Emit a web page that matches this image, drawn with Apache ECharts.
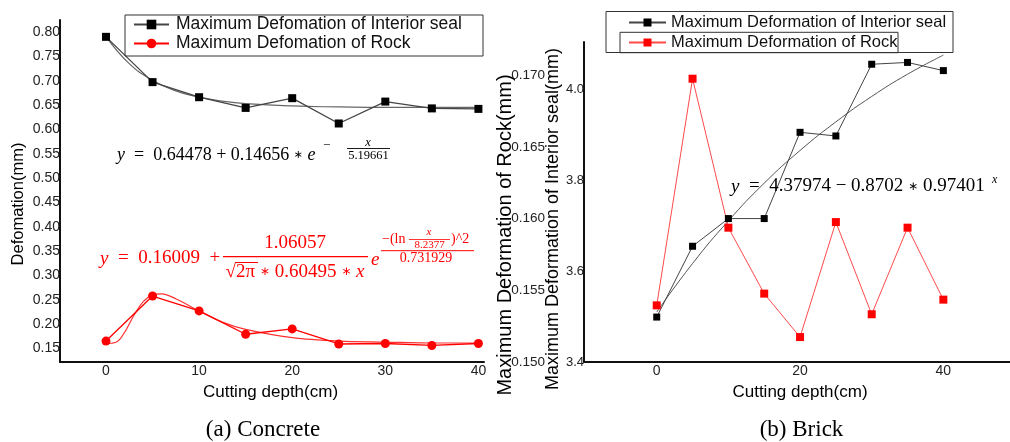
<!DOCTYPE html>
<html>
<head>
<meta charset="utf-8">
<script src="https://cdn.jsdelivr.net/npm/echarts@6/dist/echarts.min.js"></script>
<style>
html,body{margin:0;padding:0;background:#fff;}
#c{width:1010px;height:442px;}
</style>
</head>
<body>
<div id="c"></div>
<script>
// ---------- data ----------
const xDepth = [0, 5, 10, 15, 20, 25, 30, 35, 40];
// (a) Concrete
const concreteSeal = [0.790, 0.697, 0.666, 0.644, 0.664, 0.612, 0.657, 0.643, 0.642];
const concreteRock = [0.165, 0.2575, 0.227, 0.179, 0.190, 0.159, 0.160, 0.156, 0.160];
const concreteSealFitX = [0, 2.5, 5, 7.5, 10, 12.5, 15, 20, 25, 30, 35, 40];
const concreteSealFitY = [0.791, 0.735, 0.701, 0.679, 0.666, 0.658, 0.653, 0.648, 0.646, 0.645, 0.645, 0.645];
const concreteRockFitX = [0, 1, 1.5, 2, 2.5, 3, 4, 5, 6, 7.5, 10, 12.5, 15, 20, 25, 30, 35, 40];
const concreteRockFitY = [0.160, 0.162, 0.169, 0.183, 0.200, 0.218, 0.246, 0.260, 0.262, 0.252, 0.227, 0.204, 0.189, 0.172, 0.165, 0.163, 0.161, 0.161];
// (b) Brick
const brickSeal = [3.499, 3.655, 3.716, 3.716, 3.906, 3.898, 4.056, 4.060, 4.042];
const brickRock = [0.15395, 0.16976, 0.15937, 0.15477, 0.15174, 0.15976, 0.15333, 0.15937, 0.15435];
const brickSealFitY = [3.510, 3.617, 3.711, 3.794, 3.866, 3.929, 3.985, 4.034, 4.076];
// tick labels
const yTicksConcrete = [0.15, 0.20, 0.25, 0.30, 0.35, 0.40, 0.45, 0.50, 0.55, 0.60, 0.65, 0.70, 0.75, 0.80];
const xTicksConcrete = [0, 10, 20, 30, 40];
const xTicksBrick = [0, 20, 40];
const yTicksBrickSeal = [3.4, 3.6, 3.8, 4.0];
const yTicksBrickRock = [0.150, 0.155, 0.160, 0.165, 0.170];
// names
const nameSealA = 'Maximum Defomation of Interior seal';
const nameRockA = 'Maximum Defomation of Rock';
const nameSealB = 'Maximum Deformation of Interior seal';
const nameRockB = 'Maximum Deformation of Rock';

const pairs = (xs, ys) => xs.map((x, i) => [x, ys[i]]);
const SANS = 'Liberation Sans, Arial, sans-serif';
const SERIF = 'Liberation Serif, Times New Roman, serif';

function T(text, x, y, size, o) {
  o = o || {};
  return {
    type: 'text', x: x, y: y, silent: true, rotation: o.rot || 0, z: 100,
    style: {
      text: text, fontSize: size, fontFamily: o.font || SERIF,
      fontStyle: o.italic ? 'italic' : 'normal',
      fill: o.color || '#000', align: o.align || 'left', verticalAlign: 'middle',
      rich: o.rich
    }
  };
}
function L(x1, y1, x2, y2, color, w) {
  return { type: 'line', silent: true, z: 100, shape: { x1: x1, y1: y1, x2: x2, y2: y2 }, style: { stroke: color, lineWidth: w || 1 } };
}
function R(x, y, w, h) {
  return { type: 'rect', silent: true, z: 100, shape: { x: x, y: y, width: w, height: h }, style: { fill: 'rgba(0,0,0,0)', stroke: '#333', lineWidth: 1 } };
}
function richSet(size, color) {
  return {
    i: { fontStyle: 'italic', fontSize: size, fontFamily: SERIF, fill: color },
    s: { fontSize: Math.round(size * 0.62), fontFamily: 'DejaVu Sans, sans-serif', fill: color }
  };
}

const RED = '#ff0000';
const axisLbl = { color: '#222', fontSize: 14, fontFamily: SANS };
const axLine = { show: true, onZero: false, lineStyle: { color: '#111', width: 2 } };

const option = {
  animation: false,
  backgroundColor: '#fff',
  grid: [
    { left: 60, top: 20, width: 424, height: 342 },
    { left: 584, top: 42, width: 426, height: 320 }
  ],
  xAxis: [
    { type: 'value', gridIndex: 0, min: -4.94, max: 40.6,
      axisLine: axLine, axisTick: { show: false }, splitLine: { show: false },
      axisLabel: Object.assign({}, axisLbl, { margin: 2, customValues: xTicksConcrete, formatter: v => String(v) }) },
    { type: 'value', gridIndex: 1, min: -10.15, max: 49.3,
      axisLine: axLine, axisTick: { show: false }, splitLine: { show: false },
      axisLabel: Object.assign({}, axisLbl, { margin: 2, customValues: xTicksBrick, formatter: v => String(v) }) }
  ],
  yAxis: [
    { type: 'value', gridIndex: 0, min: 0.122, max: 0.8246,
      axisLine: axLine, axisTick: { show: false }, splitLine: { show: false },
      axisLabel: Object.assign({}, axisLbl, { margin: 0, customValues: yTicksConcrete, formatter: v => v.toFixed(2) }) },
    { type: 'value', gridIndex: 1, min: 3.4, max: 4.105,
      axisLine: axLine, axisTick: { show: false }, splitLine: { show: false },
      axisLabel: Object.assign({}, axisLbl, { fontSize: 13, margin: 0, customValues: yTicksBrickSeal, formatter: v => v.toFixed(1) }) },
    { type: 'value', gridIndex: 1, min: 0.150, max: 0.17232, position: 'left',
      axisLine: { show: false, onZero: false }, axisTick: { show: false }, splitLine: { show: false },
      axisLabel: Object.assign({}, axisLbl, { fontSize: 13.5, margin: 39, customValues: yTicksBrickRock, formatter: v => v.toFixed(3) }) }
  ],
  legend: [
    { orient: 'vertical', left: 133, top: 15, padding: 0, itemGap: 0, itemWidth: 35, itemHeight: 12,
      data: [nameSealA, nameRockA],
      textStyle: { fontSize: 17.5, fontFamily: SANS, color: '#111', lineHeight: 19, padding: [0, 0, 0, 2] } },
    { orient: 'vertical', left: 628, top: 12.5, padding: 0, itemGap: 0, itemWidth: 37, itemHeight: 10,
      data: [nameSealB, nameRockB],
      textStyle: { fontSize: 16.5, fontFamily: SANS, color: '#111', lineHeight: 20, padding: [0, 0, 0, 0] } }
  ],
  series: [
    // (a) fits
    { type: 'line', xAxisIndex: 0, yAxisIndex: 0, name: 'fitSealA', data: pairs(concreteSealFitX, concreteSealFitY),
      smooth: true, showSymbol: false, lineStyle: { color: '#666', width: 1.2 }, z: 2 },
    { type: 'line', xAxisIndex: 0, yAxisIndex: 0, name: 'fitRockA', data: pairs(concreteRockFitX, concreteRockFitY),
      smooth: 0.3, showSymbol: false, lineStyle: { color: '#ff3030', width: 1.2 }, z: 2 },
    // (a) data
    { type: 'line', xAxisIndex: 0, yAxisIndex: 0, name: nameSealA, data: pairs(xDepth, concreteSeal),
      symbol: 'rect', symbolSize: 8, itemStyle: { color: '#000' }, lineStyle: { color: '#444', width: 1.3 }, z: 3 },
    { type: 'line', xAxisIndex: 0, yAxisIndex: 0, name: nameRockA, data: pairs(xDepth, concreteRock),
      symbol: 'circle', symbolSize: 9, itemStyle: { color: RED }, lineStyle: { color: RED, width: 1.3 }, z: 3 },
    // (b) fit
    { type: 'line', xAxisIndex: 1, yAxisIndex: 1, name: 'fitSealB', data: pairs(xDepth, brickSealFitY),
      smooth: true, showSymbol: false, lineStyle: { color: '#555', width: 1 }, z: 2 },
    // (b) data
    { type: 'line', xAxisIndex: 1, yAxisIndex: 1, name: nameSealB, data: pairs(xDepth, brickSeal),
      symbol: 'rect', symbolSize: 7, itemStyle: { color: '#000' }, lineStyle: { color: '#444', width: 1 }, z: 3 },
    { type: 'line', xAxisIndex: 1, yAxisIndex: 2, name: nameRockB, data: pairs(xDepth, brickRock),
      symbol: 'rect', symbolSize: 8, itemStyle: { color: RED }, lineStyle: { color: '#ff4a4a', width: 1 }, z: 3 }
  ],
  graphic: [
    // legend frames
    R(125, 15, 358, 41),
    R(606, 11.5, 347, 41),
    R(620, 32.3, 278, 20.4),
    // axis titles
    T('Defomation(mm)', 18, 204, 16.5, { font: SANS, align: 'center', rot: Math.PI / 2 }),
    T('Cutting depth(cm)', 270.5, 392, 17, { font: SANS, align: 'center' }),
    T('Cutting depth(cm)', 800, 392, 17, { font: SANS, align: 'center' }),
    T('Maximum Deformation of Rock(mm)', 505, 235, 20, { font: SANS, align: 'center', rot: Math.PI / 2 }),
    T('Maximum Deformation of Interior seal(mm)', 553, 219, 18, { font: SANS, align: 'center', rot: Math.PI / 2 }),
    // captions
    T('(a) Concrete', 263, 430, 23, { align: 'center' }),
    T('(b) Brick', 801.5, 430, 23, { align: 'center' }),
    // (a) black equation
    T('{i|y}\u2002=\u20020.64478 + 0.14656 {s|\u2217} {i|e}', 117, 155, 18, { rich: richSet(18, '#000') }),
    T('\u2212', 323, 146, 13),
    T('x', 368, 142.5, 12.5, { italic: true, align: 'center' }),
    L(347, 148.5, 390, 148.5, '#000', 0.9),
    T('5.19661', 368.5, 155.5, 12.5, { align: 'center' }),
    // (a) red equation
    T('{i|y}\u2002=\u20020.16009\u2002+', 100, 258.5, 19, { color: RED, rich: richSet(19, RED) }),
    T('1.06057', 295, 243.5, 19, { color: RED, align: 'center' }),
    L(223, 256.7, 368, 256.7, RED, 1.3),
    T('\u221A2\u03C0 {s|\u2217} 0.60495 {s|\u2217} {i|x}', 295, 272, 19, { color: RED, align: 'center', rich: richSet(19, RED) }),
    L(235, 262.5, 258, 262.5, RED, 1),
    T('e', 371, 260, 19, { color: RED, italic: true }),
    T('\u2212(ln', 382, 239.5, 14, { color: RED }),
    T('x', 429, 232.5, 11, { color: RED, italic: true, align: 'center' }),
    L(409, 239.5, 450, 239.5, RED, 0.8),
    T('8.2377', 429.5, 245.5, 11, { color: RED, align: 'center' }),
    T(')^2', 451, 239.5, 14, { color: RED }),
    L(381, 250.7, 474, 250.7, RED, 1),
    T('0.731929', 426, 258.5, 14, { color: RED, align: 'center' }),
    // (b) equation
    T('{i|y}\u2002=\u20024.37974 \u2212 0.8702 {s|\u2217} 0.97401', 731, 186.5, 19, { rich: richSet(19, '#000') }),
    T('x', 992, 180, 12, { italic: true })
  ]
};

const chart = echarts.init(document.getElementById('c'), null, { renderer: 'canvas' });
chart.setOption(option);
</script>
</body>
</html>
